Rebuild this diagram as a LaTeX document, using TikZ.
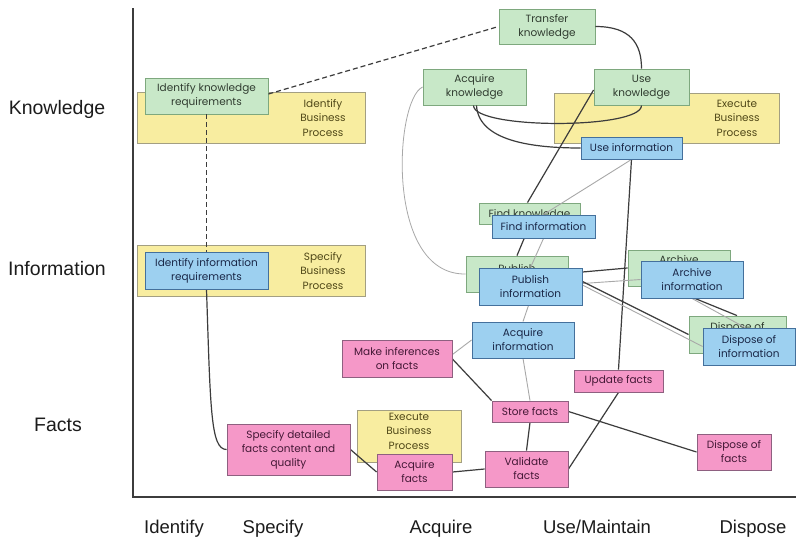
\documentclass[tikz,border=0pt]{standalone}
\usepackage{fontspec}
\setmainfont{Liberation Sans}
\newfontfamily\boxfont{Poppins}
\usetikzlibrary{calc}
\pgfdeclarelayer{bgl}\pgfdeclarelayer{yel}\pgfdeclarelayer{grn}\pgfdeclarelayer{lns}
\pgfsetlayers{bgl,yel,grn,lns,main}
\definecolor{yelF}{HTML}{F8EDA0}
\definecolor{yelD}{HTML}{A39F82}
\definecolor{yelT}{HTML}{504818}
\definecolor{grnF}{HTML}{C8E8C8}
\definecolor{grnD}{HTML}{7EA87E}
\definecolor{grnT}{HTML}{303C30}
\definecolor{bluF}{HTML}{9DD0F0}
\definecolor{bluD}{HTML}{44709C}
\definecolor{bluT}{HTML}{1A2848}
\definecolor{pnkF}{HTML}{F598C8}
\definecolor{pnkD}{HTML}{8E6080}
\definecolor{pnkT}{HTML}{441836}
\definecolor{lnD}{HTML}{3C3C3C}
\definecolor{lnL}{HTML}{A8A8A8}
\definecolor{labT}{HTML}{1C1C1C}
\tikzset{
  bx/.style={draw, line width=0.9pt, inner sep=0pt, align=center,
    font=\boxfont\fontsize{10.5}{14}\selectfont},
  ybox/.style={bx, fill=yelF, draw=yelD},
  gbox/.style={bx, fill=grnF, draw=grnD, text=grnT},
  bbox/.style={bx, fill=bluF, draw=bluD, text=bluT},
  pbox/.style={bx, fill=pnkF, draw=pnkD, text=pnkT},
  ytext/.style={inner sep=0pt, align=center, text=yelT,
    font=\boxfont\fontsize{10.5}{14.5}\selectfont},
  dkl/.style={draw=lnD, line width=1.2pt},
  ltl/.style={draw=lnL, line width=0.9pt},
  dsl/.style={draw=lnD, line width=1.2pt, dash pattern=on 5pt off 3pt},
  rowlab/.style={inner sep=0pt, anchor=base, text=labT, font=\fontsize{19.5}{23}\selectfont},
  collab/.style={inner sep=0pt, anchor=base, text=labT, font=\fontsize{18.5}{22}\selectfont},
  axisl/.style={draw=lnD, line width=1.5pt},
}
\begin{document}
\begin{tikzpicture}[x=1pt, y=-1pt]
\begin{pgfonlayer}{bgl}
\fill[white] (0,0) rectangle (796,542);
\end{pgfonlayer}
\useasboundingbox (0,0) rectangle (796,542);

% ---------- yellow process boxes ----------
\begin{pgfonlayer}{yel}
\node[ybox, minimum width=228pt, minimum height=51pt] (ibp) at (251,117.5) {};
\node[ybox, minimum width=228pt, minimum height=51pt] (sbp) at (251,270.5) {};
\node[ybox, minimum width=225pt, minimum height=50pt] (ebp) at (666.5,118) {};
\node[ybox, minimum width=104pt, minimum height=52pt] (ebpf) at (409,436) {};
\node[ytext] (ibpT) at (323,118) {Identify\\Business\\Process};
\node[ytext] (sbpT) at (323,271) {Specify\\Business\\Process};
\node[ytext] (ebpT) at (737,118) {Execute\\Business\\Process};
\node[ytext] (ebpfT) at (409,431) {Execute\\Business\\Process};
\end{pgfonlayer}

% ---------- green knowledge boxes ----------
\begin{pgfonlayer}{grn}
\node[gbox, minimum width=123pt, minimum height=36pt] (ikr) at (206.5,96) {Identify knowledge\\requirements};
\node[gbox, minimum width=96pt, minimum height=35pt] (tk) at (547,26.5) {Transfer\\knowledge};
\node[gbox, minimum width=103pt, minimum height=36pt] (ak) at (474.5,87) {Acquire\\knowledge};
\node[gbox, minimum width=95pt, minimum height=36pt] (uk) at (641.5,87) {Use\\knowledge};
\node[gbox, minimum width=101pt, minimum height=21pt] (fk) at (529.5,213.5) {};
\node[gbox, draw=none, fill=none] (fkT) at (529.5,214.5) {Find knowledge};
\node[gbox, minimum width=102pt, minimum height=36pt] (pk) at (517,274) {};
\node[gbox, draw=none, fill=none] (pkT) at (517,277) {Publish\\knowledge};
\node[gbox, minimum width=102pt, minimum height=36pt] (ark) at (679,268) {Archive\\knowledge};
\node[gbox, minimum width=97pt, minimum height=37pt] (dk) at (737.5,334.5) {Dispose of\\knowledge};
\end{pgfonlayer}

% ---------- blue information boxes ----------
\node[bbox, minimum width=123pt, minimum height=37pt] (iir) at (206.5,270.5) {Identify information\\requirements};
\node[bbox, minimum width=101pt, minimum height=22pt] (ui) at (631.5,148) {Use information};
\node[bbox, minimum width=103pt, minimum height=23pt] (fi) at (543.5,226.5) {Find information};
\node[bbox, minimum width=103pt, minimum height=37pt] (pi) at (530.5,286.5) {Publish\\information};
\node[bbox, minimum width=102pt, minimum height=37pt] (ari) at (692,279.5) {Archive\\information};
\node[bbox, minimum width=92pt, minimum height=37pt] (di) at (749,346.5) {Dispose of\\information};
\node[bbox, minimum width=102pt, minimum height=36pt] (ai) at (523,340) {Acquire\\information};

% ---------- pink facts boxes ----------
\node[pbox, minimum width=110pt, minimum height=37pt] (mi) at (397,358.5) {Make inferences\\on facts};
\node[pbox, minimum width=76pt, minimum height=21pt] (sf) at (530,411.5) {Store facts};
\node[pbox, minimum width=89pt, minimum height=22pt] (uf) at (618.5,381) {Update facts};
\node[pbox, minimum width=74pt, minimum height=36pt] (df) at (734,452) {Dispose of\\facts};
\node[pbox, minimum width=75pt, minimum height=36pt] (af) at (414.5,472) {Acquire\\facts};
\node[pbox, minimum width=83pt, minimum height=36pt] (vf) at (526.5,469) {Validate\\facts};
\node[pbox, minimum width=123pt, minimum height=51pt] (sd) at (288.5,449.5) {Specify detailed\\facts content and\\quality};

% ---------- connectors ----------
\begin{pgfonlayer}{lns}
\draw[dsl] ($(ikr.east)+(0,-2)$) -- (tk.west);
\draw[dsl] (ikr.south) -- (iir.north);
\draw[dkl] (iir.south) .. controls ($(iir.south)+(4,120)$) and ($(sd.west)+(-16,0)$) .. (sd.west);
\draw[dkl] (sd.east) -- (af.west);
\draw[dkl] (af.east) -- (vf.west);
\draw[dkl] (vf.north) -- (sf.south);
\draw[dkl] ($(mi.east)+(0,0.5)$) -- (sf.north west);
\draw[ltl] ($(mi.east)+(0,-4)$) -- (ai.west);
\draw[ltl] (ai.south) -- (sf.north);
\draw[dkl] (sf.east) -- (df.west);
\draw[dkl] (vf.east) -- (uf.south);
\draw[dkl] (uf.north) -- (ui.south);
\draw[ltl] (ui.south) -- (fi.north);
\draw[dkl] ($(uk.west)+(0,3)$) -- ($(fk.north)+(-2,0)$);
\draw[dkl] ($(fk.south)+(0.5,0)$) -- (pk.north);
\draw[ltl] (fi.south) -- (pi.north);
\draw[ltl] ($(pi.south)+(-2,0)$) -- (ai.north);
\draw[lnL, line width=0.8pt] (ak.west) .. controls ($(ak.west)+(-28,13)$) and ($(pk.west)+(-81,1)$) .. (pk.west);
\draw[dkl] ($(ak.south)+(-1,0)$) .. controls ($(ak.south)+(-1,24)$) and ($(uk.south)+(0,24)$) .. (uk.south);
\draw[dkl] ($(ak.south)+(2,0)$) .. controls ($(ak.south)+(4,35)$) and ($(ui.west)+(-50,0)$) .. (ui.west);
\draw[dkl] (tk.east) .. controls ($(tk.east)+(35,0)$) and ($(uk.north)+(0,-25)$) .. (uk.north);
\draw[dkl] ($(pi.east)+(0,-14.5)$) -- (ark.west);
\draw[ltl] ($(pi.east)+(0,-3)$) -- (ari.west);
\draw[dkl] ($(pi.east)+(0,-5)$) -- (dk.west);
\draw[ltl] ($(pi.east)+(0,-1.5)$) -- (di.west);
\draw[dkl] ($(ari.south)+(3,0)$) -- ($(dk.north)+(-0.5,0)$);
\draw[ltl] (ari.south) -- ($(di.north)+(-4,0)$);
\end{pgfonlayer}

% ---------- axes ----------
\coordinate (ytop) at (133,8);
\coordinate (orig) at (133,497);
\coordinate (xend) at (796,497);
\draw[axisl] (ytop) -- (orig) -- (xend);

% ---------- row labels ----------
\node[rowlab] (lk) at (57,114) {Knowledge};
\node[rowlab] (li) at (57,275) {Information};
\node[rowlab] (lf) at (58,431) {Facts};

% ---------- column labels ----------
\node[collab] (c1) at (174,533) {Identify};
\node[collab] (c2) at (273,533) {Specify};
\node[collab] (c3) at (441,533) {Acquire};
\node[collab] (c4) at (597,533) {Use/Maintain};
\node[collab] (c5) at (753,533) {Dispose};
\end{tikzpicture}
\end{document}
